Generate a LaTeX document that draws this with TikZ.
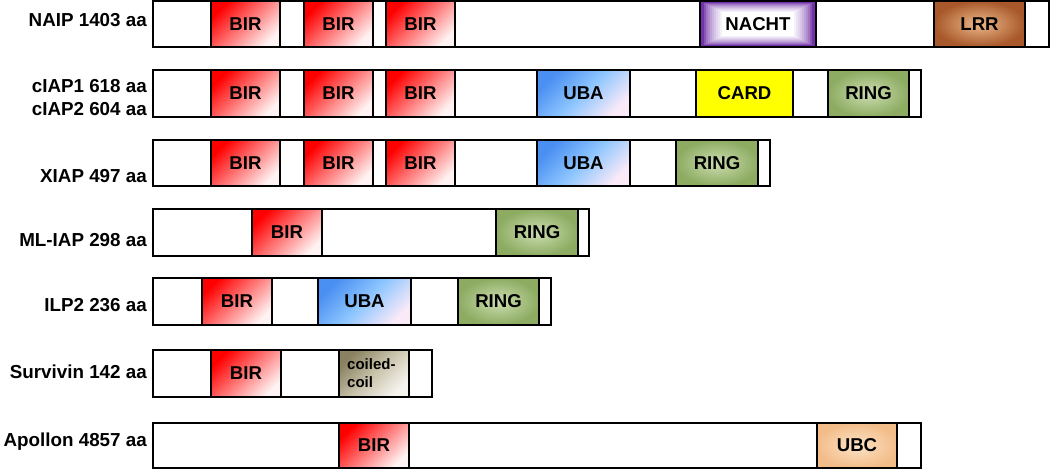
\documentclass[tikz,border=0pt]{standalone}
\usepackage{fontspec}
\setmainfont{Liberation Sans}
\definecolor{birred}{HTML}{FF0000}
\definecolor{birlight}{HTML}{FFF2F2}
\definecolor{ubatop}{HTML}{4A8FF2}
\definecolor{ubamid}{HTML}{8EC6FF}
\definecolor{ubabot}{HTML}{FAEAF8}
\definecolor{ringin}{HTML}{CCDDB0}
\definecolor{ringout}{HTML}{8DAC62}
\definecolor{lrrin}{HTML}{ECB88A}
\definecolor{lrrout}{HTML}{A8582A}
\definecolor{ubcin}{HTML}{FCE3C6}
\definecolor{ubcout}{HTML}{F3BD8A}
\definecolor{cardyellow}{HTML}{FFFF00}
\definecolor{cctop}{HTML}{8A8160}
\definecolor{ccmid}{HTML}{C9C3AC}
\definecolor{ccbot}{HTML}{F6F4EF}
\definecolor{nachtpurple}{HTML}{7232A8}
\tikzset{
  bar/.style={draw=black, line width=1.5pt, fill=white, inner sep=0pt, outer sep=0pt},
  dombox/.style={draw=black, line width=1.5pt, inner sep=0pt, outer sep=0pt,
    font=\fontsize{18.6}{20}\selectfont\bfseries},
  bir/.style={dombox, top color=birred, bottom color=birlight, shading angle=45},
  uba/.style={dombox, top color=ubatop, bottom color=ubabot, middle color=ubamid, shading angle=45},
  ring/.style={dombox, inner color=ringin, outer color=ringout},
  lrr/.style={dombox, inner color=lrrin, outer color=lrrout},
  ubc/.style={dombox, inner color=ubcin, outer color=ubcout},
  card/.style={dombox, fill=cardyellow},
  coiled/.style={dombox, top color=cctop, bottom color=ccbot, middle color=ccmid, shading angle=45},
  nacht/.style={dombox, path picture={
    \foreach \i in {0,...,11}{
      \pgfmathtruncatemacro\nachtc{min(100,100*(max(0.001,\i-1.5)/9.5)^0.6)}
      \fill[white!\nachtc!nachtpurple]
        ([shift={(\i*2pt,\i*1pt)}]path picture bounding box.south west) rectangle
        ([shift={(-\i*2pt,-\i*1pt)}]path picture bounding box.north east);
    }}},
  lbl/.style={anchor=base east, inner sep=0pt, font=\fontsize{18.8}{20}\selectfont\bfseries},
  cctext/.style={anchor=base west, inner sep=0pt, font=\fontsize{15}{18}\selectfont\bfseries}
}
\newcommand\dom[5]{%
  \pgfmathsetmacro\domw{#4-#3}\pgfmathsetmacro\domh{\yb-\ya}%
  \node[#2, minimum width=\domw pt, minimum height=\domh pt] (#1) at ({(#3+#4)/2},{(\ya+\yb)/2}) {#5};}
\newcommand\protbar[3]{%
  \pgfmathsetmacro\domw{#3-#2}\pgfmathsetmacro\domh{\yb-\ya}%
  \node[bar, minimum width=\domw pt, minimum height=\domh pt] (#1) at ({(#2+#3)/2},{(\ya+\yb)/2}) {};}
\begin{document}
\begin{tikzpicture}[x=1pt,y=-1pt]
\useasboundingbox (0,0) rectangle (1050,470);
% NAIP
\def\ya{1}\def\yb{47}
\protbar{naip}{153}{1049}
\dom{naip-bir1}{bir}{211}{280}{BIR}
\dom{naip-bir2}{bir}{304}{373}{BIR}
\dom{naip-bir3}{bir}{386}{455}{BIR}
\dom{naip-nacht}{nacht}{700}{816}{NACHT}
\dom{naip-lrr}{lrr}{934}{1025}{LRR}
\node[lbl] (naip-lbl) at (147,27) {NAIP 1403 aa};
% cIAP
\def\ya{70}\def\yb{117}
\protbar{ciap}{153}{921}
\dom{ciap-bir1}{bir}{211}{280}{BIR}
\dom{ciap-bir2}{bir}{304}{373}{BIR}
\dom{ciap-bir3}{bir}{386}{455}{BIR}
\dom{ciap-uba}{uba}{537}{630}{UBA}
\dom{ciap-card}{card}{696}{793}{CARD}
\dom{ciap-ring}{ring}{828}{909}{RING}
\node[lbl] (ciap1-lbl) at (147,92.5) {cIAP1 618 aa};
\node[lbl] (ciap2-lbl) at (147,116) {cIAP2 604 aa};
% XIAP
\def\ya{140}\def\yb{186}
\protbar{xiap}{153}{770}
\dom{xiap-bir1}{bir}{211}{280}{BIR}
\dom{xiap-bir2}{bir}{304}{373}{BIR}
\dom{xiap-bir3}{bir}{386}{455}{BIR}
\dom{xiap-uba}{uba}{537}{630}{UBA}
\dom{xiap-ring}{ring}{676}{758}{RING}
\node[lbl] (xiap-lbl) at (147,183) {XIAP 497 aa};
% ML-IAP
\def\ya{209}\def\yb{256}
\protbar{mliap}{153}{589}
\dom{mliap-bir}{bir}{252}{322}{BIR}
\dom{mliap-ring}{ring}{496}{578}{RING}
\node[lbl] (mliap-lbl) at (147,246.5) {ML-IAP 298 aa};
% ILP2
\def\ya{278}\def\yb{325}
\protbar{ilp}{153}{551}
\dom{ilp-bir}{bir}{202}{272}{BIR}
\dom{ilp-uba}{uba}{318}{411}{UBA}
\dom{ilp-ring}{ring}{458}{539}{RING}
\node[lbl] (ilp-lbl) at (147,312) {ILP2 236 aa};
% Survivin
\def\ya{350}\def\yb{397}
\protbar{surv}{153}{432}
\dom{surv-bir}{bir}{211}{281}{BIR}
\dom{surv-cc}{coiled}{339}{409}{}
\node[cctext] (surv-cc1) at (347,370) {coiled-};
\node[cctext] (surv-cc2) at (347,388) {coil};
\node[lbl] (surv-lbl) at (147,378) {Survivin 142 aa};
% Apollon
\def\ya{423}\def\yb{468}
\protbar{apol}{153}{921}
\dom{apol-bir}{bir}{339}{409}{BIR}
\dom{apol-ubc}{ubc}{817}{897}{UBC}
\node[lbl] (apol-lbl) at (147,446) {Apollon 4857 aa};
\end{tikzpicture}
\end{document}
